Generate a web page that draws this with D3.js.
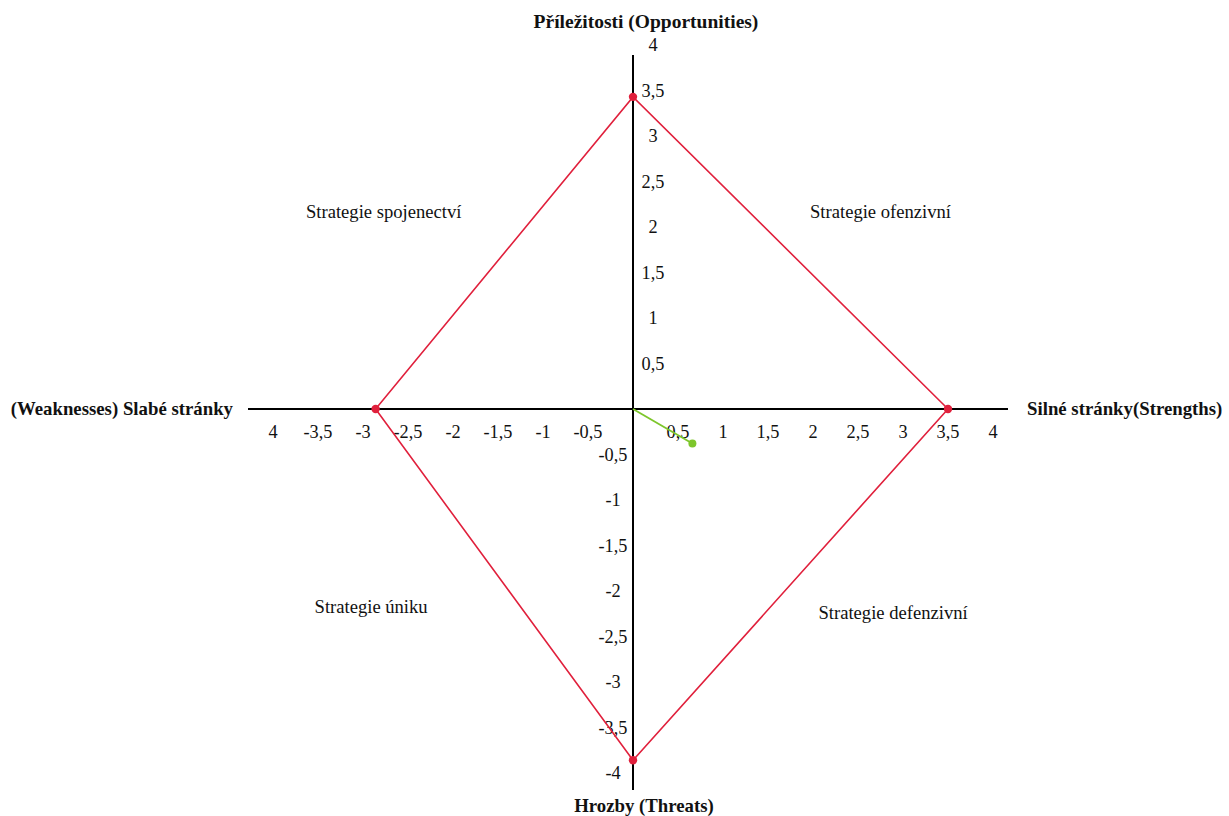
<!DOCTYPE html>
<html><head><meta charset="utf-8">
<script src="https://cdn.jsdelivr.net/npm/d3@7"></script>
<style>
html,body{margin:0;padding:0;background:#fff;}
#c text{font-family:"Liberation Serif","Times New Roman",serif;}
</style></head>
<body>
<svg id="c" width="1229" height="816"></svg>
<script>
// tick values and labels
const xTicks = [-4,-3.5,-3,-2.5,-2,-1.5,-1,-0.5,0.5,1,1.5,2,2.5,3,3.5,4];
const xTickLabels = ["4","-3,5","-3","-2,5","-2","-1,5","-1","-0,5","0,5","1","1,5","2","2,5","3","3,5","4"];
const yTicks = [4,3.5,3,2.5,2,1.5,1,0.5,-0.5,-1,-1.5,-2,-2.5,-3,-3.5,-4];
const yTickLabels = ["4","3,5","3","2,5","2","1,5","1","0,5","-0,5","-1","-1,5","-2","-2,5","-3","-3,5","-4"];
// diamond vertices (strengths, opportunities, weaknesses, threats)
const diamondX = [3.5, 0, -2.86, 0];
const diamondY = [0, 3.43, 0, -3.86];
// resulting strategy vector
const vectorX = [0, 0.66];
const vectorY = [0, -0.38];
// quadrant names
const quadrantNames = ["Strategie spojenectví","Strategie ofenzivní","Strategie úniku","Strategie defenzivní"];
const quadrantX = [-2.77, 2.75, -2.91, 2.89];
const quadrantY = [2.1, 2.1, -2.24, -2.31];
const axisTitles = ["Příležitosti (Opportunities)","Hrozby (Threats)","(Weaknesses) Slabé stránky","Silné stránky(Strengths)"];

const FONT = "'Liberation Serif', 'Times New Roman', serif";
const svg = d3.select("#c");
const x = d3.scaleLinear().domain([-4,4]).range([273,993]);
const y = d3.scaleLinear().domain([-4,4]).range([773,45]);
const ink = "#111";

// axes
svg.append("line").attr("x1",248).attr("x2",1008).attr("y1",y(0)).attr("y2",y(0))
  .attr("stroke","#000").attr("stroke-width",2);
svg.append("line").attr("x1",x(0)).attr("x2",x(0)).attr("y1",55).attr("y2",790)
  .attr("stroke","#000").attr("stroke-width",2);

// x tick labels
svg.selectAll("text.xt").data(xTicks).enter().append("text").attr("class","xt")
  .attr("x",d=>x(d)).attr("y",y(0)+29).attr("text-anchor","middle")
  .style("font-family",FONT).attr("font-size",18.3)
  .attr("fill",ink).text((d,i)=>xTickLabels[i]);
// y tick labels
svg.selectAll("text.yt").data(yTicks).enter().append("text").attr("class","yt")
  .attr("x",d=> d>0 ? x(0)+20 : x(0)-20).attr("y",d=>y(d)).attr("dy","0.35em")
  .attr("text-anchor","middle").style("font-family",FONT).attr("font-size",18.3)
  .attr("fill",ink).text((d,i)=>yTickLabels[i]);

// diamond
const pts = diamondX.map((v,i)=>[x(v), y(diamondY[i])]);
svg.append("path").attr("d", d3.line()(pts.concat([pts[0]])))
  .attr("fill","none").attr("stroke","#e0203c").attr("stroke-width",1.6);
svg.selectAll("circle.dv").data(pts).enter().append("circle").attr("class","dv")
  .attr("cx",d=>d[0]).attr("cy",d=>d[1]).attr("r",4.2).attr("fill","#e0203c");

// vector
const vp = vectorX.map((v,i)=>[x(v), y(vectorY[i])]);
svg.append("path").attr("d", d3.line()(vp)).attr("fill","none")
  .attr("stroke","#7dc62b").attr("stroke-width",1.8);
svg.append("circle").attr("cx",vp[1][0]).attr("cy",vp[1][1]).attr("r",4).attr("fill","#7dc62b");

// quadrant names
svg.selectAll("text.q").data(quadrantNames).enter().append("text").attr("class","q")
  .attr("x",(d,i)=>x(quadrantX[i])).attr("y",(d,i)=>y(quadrantY[i]))
  .attr("text-anchor","middle").style("font-family",FONT).attr("font-size",18.6)
  .attr("fill",ink).text(d=>d);

// axis titles
function title(t, tx, ty, anchor, size){
  svg.append("text").attr("x",tx).attr("y",ty).attr("text-anchor",anchor)
    .style("font-family",FONT).attr("font-weight","bold").attr("font-size",size)
    .attr("fill",ink).text(t);
}
title(axisTitles[0], 646, 28, "middle", 19.5);
title(axisTitles[1], 644, 812, "middle", 18.8);
title(axisTitles[2], 233, 415, "end", 18.8);
title(axisTitles[3], 1027, 415, "start", 18.8);
</script>
</body></html>
